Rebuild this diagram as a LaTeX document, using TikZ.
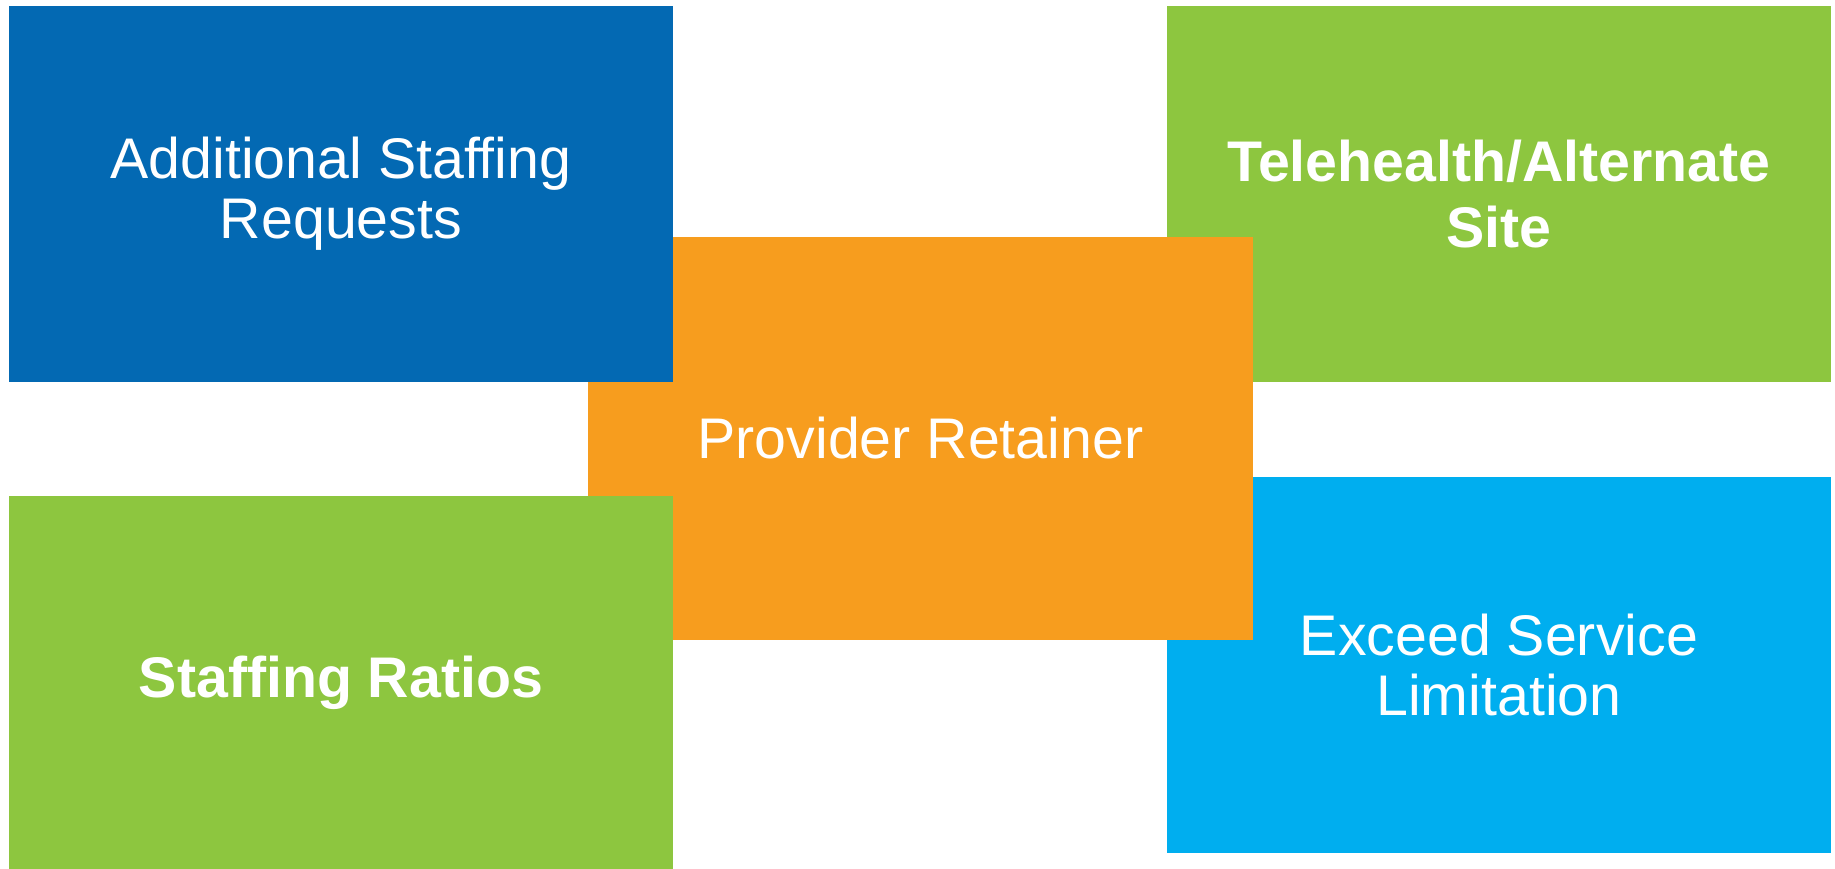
\documentclass[tikz,border=0pt]{standalone}
\usepackage{fontspec}
\setmainfont{Liberation Sans}
\definecolor{tileblue}{RGB}{3,105,179}
\definecolor{tilegreen}{RGB}{141,198,63}
\definecolor{tileorange}{RGB}{247,157,30}
\definecolor{tilecyan}{RGB}{0,174,239}
\begin{document}
\begin{tikzpicture}[
    tile/.style={rectangle, inner sep=0pt, minimum width=6.64cm, minimum height=3.76cm,
                 text=white, align=center, font=\fontsize{16.3}{17}\selectfont},
    boldtile/.style={tile, font=\fontsize{16.3}{18.8}\selectfont\bfseries}
  ]
    \useasboundingbox (0,0) rectangle (18.35,-8.69);
    % right hand tiles lie under the centre one
    \node[boldtile, fill=tilegreen] (telehealth) at (14.99,-1.94) {Telehealth/Alternate\\Site};
    \node[tile, fill=tilecyan] (exceed) at (14.99,-6.65) {Exceed Service\\Limitation};
    \node[tile, fill=tileorange, minimum width=6.65cm, minimum height=4.03cm] (retainer)
      at (9.205,-4.385) {Provider Retainer};
    % left hand tiles lie over it
    \node[tile, fill=tileblue] (staffreq) at (3.41,-1.94) {Additional Staffing\\Requests};
    \node[boldtile, fill=tilegreen, minimum height=3.73cm] (ratios) at (3.41,-6.825) {Staffing Ratios};
  \end{tikzpicture}
\end{document}
